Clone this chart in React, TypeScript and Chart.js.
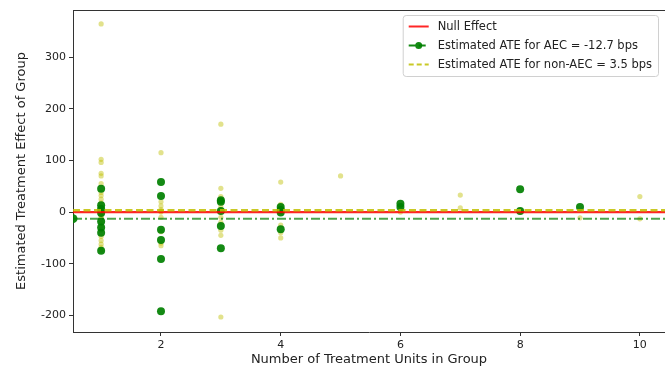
import React, { useEffect, useRef } from "react";
import { Chart, registerables } from "chart.js";

Chart.register(...registerables);

// ---- data ----
const xTicks = [2, 4, 6, 8, 10];
const yTicks = [-200, -100, 0, 100, 200, 300];
const xRange = [0.53, 10.42];
const yRange = [-232, 391];

const nullEffect = 0;
const aecAte = -12.7;
const nonAecAte = 3.5;

const aecUnits = [1, 2, 3, 4, 6, 8, 9];
const aecEffects = [
  [45, 13, 6, -2, -18, -30, -40, -75],
  [58, 31, -34, -54, -91, -192],
  [23, 20, 2, -27, -70],
  [10, 4, -1, -33],
  [16, 10],
  [44, 2],
  [10],
];

const nonAecUnits = [1, 2, 3, 4, 5, 6, 7, 8, 9, 10];
const nonAecEffects = [
  [364, 102, 96, 75, 70, 55, 38, 32, 25, 18, 10, 5, 2, -3, -8, -12, -22, -27, -35, -47, -55, -62, -68, -73],
  [115, 20, 12, 5, 2, 0, -10, -38, -60, -65],
  [170, 46, 30, 12, 5, -10, -20, -35, -45, -203],
  [58, 15, 5, -25, -40, -50],
  [70],
  [5, 0],
  [33, 8],
  [3],
  [-11],
  [30, -13],
];

const labels = {
  nullEffect: "Null Effect",
  aec: `Estimated ATE for AEC = ${aecAte} bps`,
  nonAec: `Estimated ATE for non-AEC = ${nonAecAte} bps`,
  x: "Number of Treatment Units in Group",
  y: "Estimated Treatment Effect of Group",
};

const RED = "rgba(255,0,0,0.85)";
const GREEN_LINE = "rgba(0,128,0,0.7)";
const GREEN = "rgba(0,128,0,0.92)";
const YELLOW_LINE = "rgba(191,191,0,0.85)";
const YELLOW_PT = "rgba(191,191,0,0.45)";
const AXIS = "#333";
const TEXT = "#222";
const FONT = "'DejaVu Sans', sans-serif";

function toPoints(units: number[], effects: number[][]) {
  const pts: { x: number; y: number }[] = [];
  units.forEach((u, i) => effects[i].forEach((v) => pts.push({ x: u, y: v })));
  return pts;
}

const framePlugin = {
  id: "frame",
  afterDraw(chart: any) {
    const { ctx, chartArea } = chart;
    ctx.save();
    ctx.strokeStyle = AXIS;
    ctx.lineWidth = 1;
    ctx.beginPath();
    ctx.moveTo(chartArea.left, chartArea.top + 0.5);
    ctx.lineTo(chartArea.right, chartArea.top + 0.5);
    ctx.stroke();

    // legend
    const items = [
      { label: labels.nullEffect, color: RED, dash: [] as number[], marker: false },
      { label: labels.aec, color: GREEN, dash: [7, 3], marker: true },
      { label: labels.nonAec, color: YELLOW_LINE, dash: [5, 3], marker: false },
    ];
    ctx.font = `11.5px ${FONT}`;
    const textW = Math.max(...items.map((it) => ctx.measureText(it.label).width));
    const pad = 6;
    const handle = 20;
    const gap = 9;
    const rowH = 19;
    const boxW = pad + handle + gap + textW + pad;
    const boxH = rowH * items.length + 4;
    const boxRight = chartArea.right - 7;
    const boxLeft = boxRight - boxW;
    const boxTop = chartArea.top + 5;
    ctx.fillStyle = "rgba(255,255,255,0.85)";
    ctx.strokeStyle = "#d0d0d0";
    ctx.lineWidth = 1;
    ctx.beginPath();
    (ctx as any).roundRect(boxLeft + 0.5, boxTop + 0.5, boxW, boxH, 3);
    ctx.fill();
    ctx.stroke();
    items.forEach((it, i) => {
      const cy = boxTop + 2 + rowH * i + rowH / 2;
      const hx = boxLeft + pad;
      ctx.strokeStyle = it.color;
      ctx.lineWidth = 2;
      ctx.setLineDash(it.dash);
      ctx.beginPath();
      ctx.moveTo(hx, cy);
      ctx.lineTo(hx + handle, cy);
      ctx.stroke();
      ctx.setLineDash([]);
      if (it.marker) {
        ctx.fillStyle = it.color;
        ctx.beginPath();
        ctx.arc(hx + handle / 2, cy, 3.5, 0, Math.PI * 2);
        ctx.fill();
      }
      ctx.fillStyle = TEXT;
      ctx.textBaseline = "middle";
      ctx.textAlign = "left";
      ctx.fillText(it.label, hx + handle + gap, cy + 0.5);
    });
    ctx.restore();
  },
};

export default function App() {
  const ref = useRef<HTMLCanvasElement | null>(null);

  useEffect(() => {
    document.body.style.margin = "0";
    document.body.style.overflow = "hidden";
    Chart.defaults.font.family = FONT;
    const canvas = ref.current!;
    const chart = new Chart(canvas, {
      type: "scatter",
      data: {
        datasets: [
          {
            label: labels.nullEffect,
            data: [
              { x: xRange[0], y: nullEffect },
              { x: xRange[1], y: nullEffect },
            ],
            showLine: true,
            borderColor: RED,
            borderWidth: 2.4,
            pointRadius: 0,
            order: 2,
          },
          {
            label: labels.nonAec,
            data: [
              { x: xRange[0], y: nonAecAte },
              { x: xRange[1], y: nonAecAte },
            ],
            showLine: true,
            borderColor: YELLOW_LINE,
            borderWidth: 2.6,
            borderDash: [7, 3.5],
            pointRadius: 0,
            order: 1,
          },
          {
            label: labels.aec,
            data: [
              { x: xRange[0], y: aecAte },
              { x: xRange[1], y: aecAte },
            ],
            showLine: true,
            borderColor: GREEN_LINE,
            borderWidth: 2,
            borderDash: [9, 3, 2, 3],
            pointRadius: [4.5, 0],
            pointBackgroundColor: GREEN,
            pointBorderWidth: 0,
            clip: 0,
            order: 3,
          } as any,
          {
            label: "AEC groups",
            data: toPoints(aecUnits, aecEffects),
            pointRadius: 4,
            pointBackgroundColor: GREEN,
            pointBorderWidth: 0,
            order: 4,
          },
          {
            label: "non-AEC groups",
            data: toPoints(nonAecUnits, nonAecEffects),
            pointRadius: 2.6,
            pointBackgroundColor: YELLOW_PT,
            pointBorderWidth: 0,
            order: 5,
          },
        ],
      },
      options: {
        animation: false,
        responsive: false,
        layout: { autoPadding: false, padding: { left: 10, top: 10, right: 0, bottom: 4 } },
        plugins: { legend: { display: false }, tooltip: { enabled: false } },
        scales: {
          x: {
            type: "linear",
            min: xRange[0],
            max: xRange[1],
            afterBuildTicks: (s: any) => {
              s.ticks = xTicks.map((v) => ({ value: v }));
            },
            afterFit: (s: any) => {
              s.height = 39;
            },
            grid: { drawOnChartArea: false, tickLength: 4, color: AXIS },
            border: { color: AXIS, width: 1 },
            ticks: { color: TEXT, font: { size: 11, family: FONT }, padding: 3, maxRotation: 0 },
            title: { display: true, text: labels.x, color: TEXT, font: { size: 13, family: FONT } },
          },
          y: {
            type: "linear",
            min: yRange[0],
            max: yRange[1],
            afterBuildTicks: (s: any) => {
              s.ticks = yTicks.map((v) => ({ value: v }));
            },
            afterFit: (s: any) => {
              s.width = 63;
            },
            grid: { drawOnChartArea: false, tickLength: 4, color: AXIS },
            border: { color: AXIS, width: 1 },
            ticks: { color: TEXT, font: { size: 11, family: FONT }, padding: 3 },
            title: { display: true, text: labels.y, color: TEXT, font: { size: 13, family: FONT } },
          },
        },
      },
      plugins: [framePlugin],
    } as any);
    return () => chart.destroy();
  }, []);

  return (
    <div style={{ width: 665, height: 375, position: "relative" }}>
      <canvas ref={ref} width={665} height={375} style={{ width: 665, height: 375, display: "block" }} />
    </div>
  );
}
